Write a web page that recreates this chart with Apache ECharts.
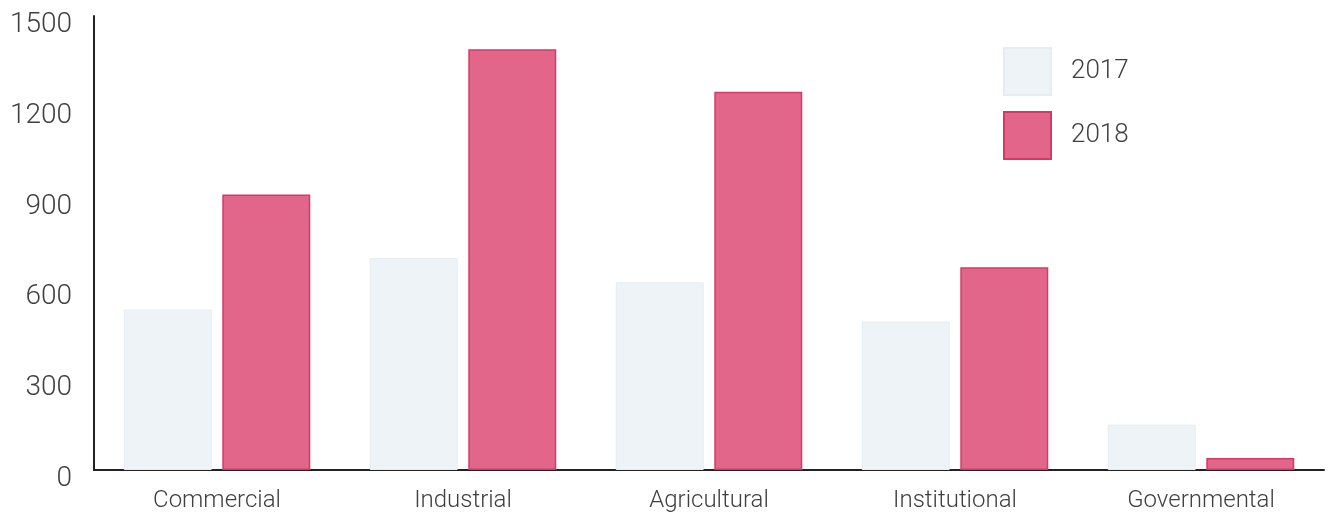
<!DOCTYPE html>
<html>
<head>
<meta charset="utf-8">
<script src="https://cdn.jsdelivr.net/npm/echarts@6/dist/echarts.min.js"></script>
<style>
  html, body { margin: 0; padding: 0; background: #ffffff; }
  #chart { width: 1331px; height: 521px; }
</style>
</head>
<body>
<div id="chart"></div>
<script>
// Categories and yearly values
const categories = ['Commercial', 'Industrial', 'Agricultural', 'Institutional', 'Governmental'];
const values2017 = [530, 700, 620, 490, 150];
const values2018 = [910, 1390, 1250, 670, 40];
const yTicks = [0, 300, 600, 900, 1200, 1500];

const textColor = '#404040';
const fontFamily = 'Roboto, Liberation Sans, Arial, sans-serif';

const chart = echarts.init(document.getElementById('chart'), null, { renderer: 'canvas' });

chart.setOption({
  animation: false,
  backgroundColor: '#ffffff',
  grid: { left: 94, right: 7, top: 16, bottom: 51, containLabel: false },
  legend: {
    data: ['2017', '2018'],
    orient: 'vertical',
    left: 998,
    top: 42,
    itemWidth: 47,
    itemHeight: 47,
    itemGap: 15,
    icon: 'rect',
    textStyle: { fontSize: 26, fontWeight: 300, color: textColor, fontFamily: fontFamily, padding: [0, 0, 4, 15] }
  },
  xAxis: {
    type: 'category',
    data: categories,
    axisLine: { show: true, lineStyle: { color: '#222', width: 2 } },
    axisTick: { show: false },
    axisLabel: { fontSize: 24, fontWeight: 300, color: textColor, fontFamily: fontFamily, margin: 19 }
  },
  yAxis: {
    type: 'value',
    min: yTicks[0],
    max: yTicks[yTicks.length - 1],
    interval: 300,
    splitLine: { show: false },
    axisLine: { show: true, lineStyle: { color: '#222', width: 2 } },
    axisTick: { show: false },
    axisLabel: {
      fontSize: 28, fontWeight: 300, color: textColor, fontFamily: fontFamily, margin: 22,
      formatter: (v) => String(v),
      verticalAlign: 'top', lineHeight: 18
    }
  },
  series: [
    {
      name: '2017',
      type: 'bar',
      data: values2017,
      barWidth: 88,
      barGap: '12%',
      itemStyle: { color: '#eef3f8', borderColor: '#e6ecf2', borderWidth: 1 }
    },
    {
      name: '2018',
      type: 'bar',
      data: values2018,
      barWidth: 88,
      itemStyle: { color: '#e1668a', borderColor: '#d6386a', borderWidth: 1.5 }
    }
  ]
});
</script>
</body>
</html>
